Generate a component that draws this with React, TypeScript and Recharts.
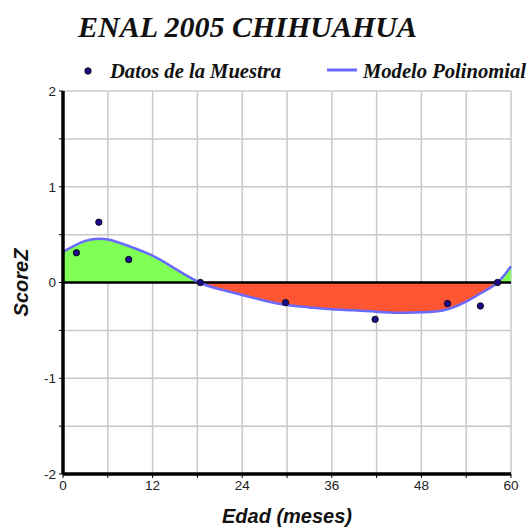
import React from "react"
import {
  ComposedChart,
  Area,
  Line,
  Scatter,
  XAxis,
  YAxis,
  CartesianGrid,
  ReferenceLine,
  Label,
} from "recharts"

// polynomial model
const curveX = [0, 3, 6, 9, 12, 15, 18.3, 21, 24, 27, 30, 33, 36, 39, 42, 45, 48, 51, 54, 56, 58.2, 60]
const curveY = [0.32, 0.435, 0.45, 0.375, 0.28, 0.145, 0, -0.07, -0.13, -0.19, -0.235, -0.26, -0.28, -0.29, -0.305, -0.315, -0.31, -0.29, -0.2, -0.11, 0, 0.17]

// sample points
const sampleX = [1.8, 4.8, 8.8, 18.4, 29.8, 41.8, 51.5, 55.9, 58.2]
const sampleY = [0.31, 0.63, 0.24, 0, -0.21, -0.385, -0.22, -0.245, 0]

const xTicks = [0, 6, 12, 18, 24, 30, 36, 42, 48, 54, 60]
const yTicks = [-2, -1.5, -1, -0.5, 0, 0.5, 1, 1.5, 2]

const title = "ENAL 2005 CHIHUAHUA"
const seriesNames = ["Datos de la Muestra", "Modelo Polinomial"]

const curveData = curveX.map((x, i) => ({ x, y: curveY[i] }))
const samples = sampleX.map((x, i) => ({ x, y: sampleY[i] }))

const yMax = Math.max(...curveY) + 0.01
const yMin = Math.min(...curveY)
const splitOffset = yMax / (yMax - yMin)

const serif = "'Liberation Serif', 'Times New Roman', serif"
const sans = "'Liberation Sans', Arial, sans-serif"

function Header() {
  return (
    <svg width={531} height={90} style={{ position: "absolute", left: 0, top: 0 }}>
      <text x={78} y={37} fontFamily={serif} fontStyle="italic" fontWeight="bold" fontSize={30} fill="#111">
        {title}
      </text>
      <circle cx={88} cy={71} r={3.2} fill="#1c0c88" stroke="#000" strokeWidth={0.8} />
      <text x={110} y={78} fontFamily={serif} fontStyle="italic" fontWeight="bold" fontSize={20.6} fill="#111">
        {seriesNames[0]}
      </text>
      <line x1={327} x2={357} y1={70} y2={70} stroke="#6a6aff" strokeWidth={3} />
      <text x={363} y={78} fontFamily={serif} fontStyle="italic" fontWeight="bold" fontSize={20.6} fill="#111">
        {seriesNames[1]}
      </text>
    </svg>
  )
}

export default function App() {
  return (
    <div style={{ position: "absolute", left: 0, top: 0, width: 531, height: 527, background: "#fff" }}>
      <ComposedChart
        width={531}
        height={527}
        data={curveData}
        margin={{ top: 91, right: 20, bottom: 0, left: 0 }}
      >
        <defs>
          <linearGradient id="split" x1="0" y1="0" x2="0" y2="1">
            <stop offset={splitOffset} stopColor="#80ff55" stopOpacity={1} />
            <stop offset={splitOffset} stopColor="#ff5533" stopOpacity={1} />
          </linearGradient>
        </defs>
        <CartesianGrid
          stroke="#c8c8c8"
          strokeWidth={1.5}
          horizontalValues={yTicks}
          verticalValues={xTicks}
        />
        <XAxis
          dataKey="x"
          type="number"
          domain={[0, 60]}
          ticks={xTicks}
          interval={0}
          height={53}
          tickFormatter={(v) => (v % 12 === 0 ? String(v) : "")}
          tick={{ fontFamily: sans, fontSize: 13.5, fill: "#222" }}
          tickSize={4}
          tickMargin={2}
          axisLine={{ stroke: "#000", strokeWidth: 3.5 }}
          tickLine={{ stroke: "#000" }}
        >
          <Label
            value="Edad (meses)"
            position="insideBottom"
            offset={4}
            style={{ fontFamily: sans, fontSize: 20, fontWeight: "bold", fontStyle: "italic", fill: "#111" }}
          />
        </XAxis>
        <YAxis
          type="number"
          domain={[-2, 2]}
          ticks={yTicks}
          interval={0}
          width={63}
          tickFormatter={(v) => (Number.isInteger(v) ? String(v) : "")}
          tick={{ fontFamily: sans, fontSize: 13.5, fill: "#222" }}
          tickSize={4}
          tickMargin={3}
          axisLine={{ stroke: "#000", strokeWidth: 3.5 }}
          tickLine={{ stroke: "#000" }}
        >
          <Label
            content={({ viewBox }: any) => {
              const cx = 21
              const cy = viewBox.y + viewBox.height / 2
              return (
                <text
                  x={cx}
                  y={cy}
                  transform={`rotate(-90, ${cx}, ${cy})`}
                  textAnchor="middle"
                  dominantBaseline="central"
                  fontFamily={sans}
                  fontSize={20}
                  fontWeight="bold"
                  fontStyle="italic"
                  fill="#111"
                >
                  ScoreZ
                </text>
              )
            }}
          />
        </YAxis>
        <Area
          type="natural"
          dataKey="y"
          stroke="none"
          fill="url(#split)"
          fillOpacity={1}
          isAnimationActive={false}
        />
        <ReferenceLine y={0} stroke="#000" strokeWidth={2.5} />
        <Line
          type="natural"
          dataKey="y"
          stroke="#6a6aff"
          strokeWidth={2.5}
          dot={false}
          activeDot={false}
          isAnimationActive={false}
        />
        <Scatter
          data={samples}
          dataKey="y"
          isAnimationActive={false}
          shape={(p: any) => (
            <circle cx={p.cx} cy={p.cy} r={3.2} fill="#1c0c88" stroke="#000" strokeWidth={0.8} />
          )}
        />
      </ComposedChart>
      <Header />
    </div>
  )
}
